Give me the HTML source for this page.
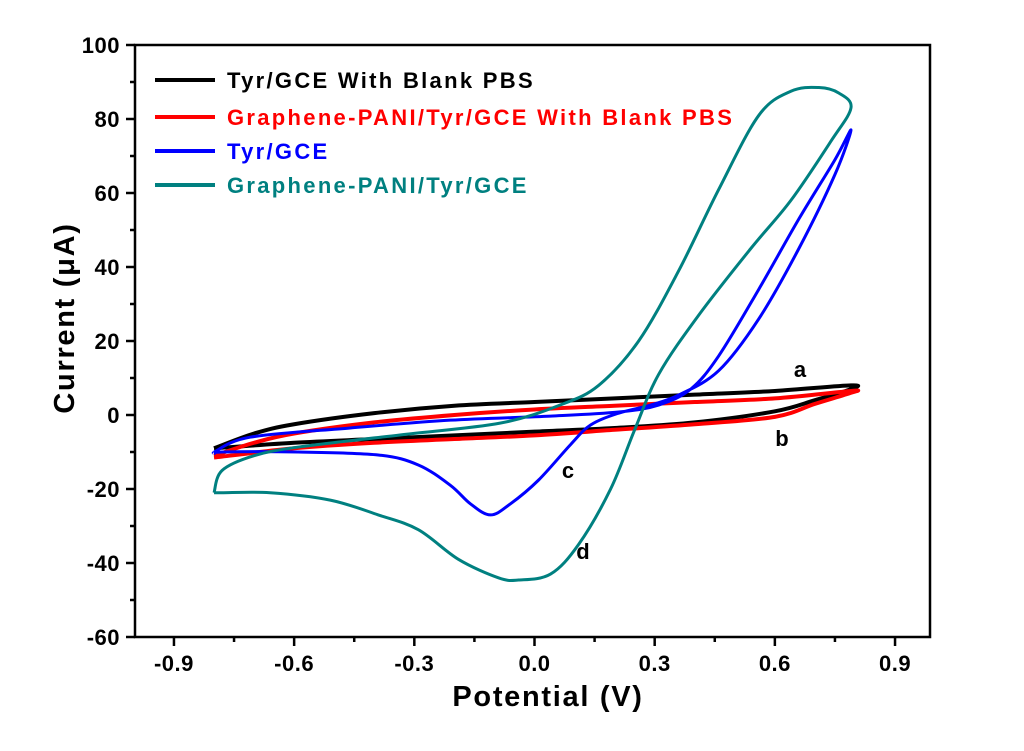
<!DOCTYPE html>
<html><head><meta charset="utf-8"><style>
html,body{margin:0;padding:0;background:#fff;}
svg text{font-family:"Liberation Sans",Arial,sans-serif;font-weight:bold;}
</style></head><body>
<svg id="chart" width="1024" height="746" viewBox="0 0 1024 746" xmlns="http://www.w3.org/2000/svg">
<g id="plot"></g>
</svg>
<script>
const xTicks=[-0.9,-0.6,-0.3,0.0,0.3,0.6,0.9];
const xTickLabels=["-0.9","-0.6","-0.3","0.0","0.3","0.6","0.9"];
const yTicks=[-60,-40,-20,0,20,40,60,80,100];
const yTickLabels=["-60","-40","-20","0","20","40","60","80","100"];
const seriesNames=["Tyr/GCE With Blank PBS","Graphene-PANI/Tyr/GCE With Blank PBS","Tyr/GCE","Graphene-PANI/Tyr/GCE"];
const seriesColors=["#000000","#ff0000","#0000ff","#008080"];
const potA=[-0.8,-0.7,-0.6,-0.4,-0.2,0,0.2,0.4,0.6,0.79,0.79,0.7,0.6,0.4,0.2,0,-0.2,-0.4,-0.6,-0.8];
const curA=[-9,-5,-2.5,0.5,2.5,3.5,4.5,5.5,6.5,8,7,4,1,-2,-3.5,-4.5,-5.5,-6.5,-7.5,-9];
const potB=[-0.8,-0.7,-0.6,-0.4,-0.2,0,0.2,0.4,0.6,0.79,0.79,0.7,0.6,0.4,0.2,0,-0.2,-0.4,-0.6,-0.8];
const curB=[-11,-7.5,-5,-2,0,1.5,2.5,3.5,4.5,6.5,6,3,-0.5,-2.5,-4,-5.5,-6.5,-7.5,-9,-11.5];
const potC=[-0.8,-0.71,-0.46,-0.21,0.04,0.21,0.31,0.39,0.46,0.56,0.66,0.75,0.79,0.75,0.66,0.56,0.46,0.36,0.29,0.21,0.14,0.09,0.01,-0.06,-0.11,-0.16,-0.21,-0.29,-0.39,-0.59,-0.78,-0.8];
const curC=[-10,-6,-3.5,-1.4,-0.3,0.8,2.7,7,16,34,53,69,77,65,45,26,12,5.4,2.7,0.5,-2.7,-8,-17.6,-24,-27,-24,-19,-13.5,-10.8,-10,-10,-10.5];
const potD=[-0.8,-0.78,-0.7,-0.585,-0.336,-0.086,0.064,0.16,0.26,0.36,0.46,0.56,0.64,0.71,0.76,0.79,0.74,0.64,0.54,0.41,0.31,0.25,0.19,0.11,0.04,-0.04,-0.09,-0.19,-0.29,-0.39,-0.51,-0.66,-0.78,-0.8];
const curD=[-21,-15,-11,-8.6,-5.4,-2.2,2.7,8,20,39,61,81,87.5,88.5,87,83,74,58,45,27,11,-4,-20,-35,-43,-44.6,-44,-39,-31,-27,-23,-21,-21,-21];
const NS="http://www.w3.org/2000/svg";
const g=document.getElementById('plot');
const L=135,R=930,T=45,B=637;
function sx(v){return 534.5+v*400.6;}
function sy(v){return 415-v*3.7;}
function el(tag,attrs){const e=document.createElementNS(NS,tag);for(const k in attrs)e.setAttribute(k,attrs[k]);g.appendChild(e);return e;}
let f=el('rect',{x:L,y:T,width:R-L,height:B-T,fill:'none',stroke:'#000','stroke-width':2.5});


xTicks.forEach((v,i)=>{
 let t=el('line',{x1:sx(v),x2:sx(v),y1:B,y2:B+9,stroke:'#000','stroke-width':2.5});
 
 
 if(i<xTicks.length-1){let m=el('line',{x1:sx(v+0.15),x2:sx(v+0.15),y1:B,y2:B+5,stroke:'#000','stroke-width':2.5});
 
 }
 let tx=el('text',{x:sx(v),y:B+34,'text-anchor':'middle','font-size':22,'letter-spacing':0.5});tx.textContent=xTickLabels[i];
 
 
});
yTicks.forEach((v,i)=>{
 let t=el('line',{x1:L-9,x2:L,y1:sy(v),y2:sy(v),stroke:'#000','stroke-width':2.5});
 
 
 if(i<yTicks.length-1){let m=el('line',{x1:L-5,x2:L,y1:sy(v+10),y2:sy(v+10),stroke:'#000','stroke-width':2.5});
 
 }
 let tx=el('text',{x:L-15,y:sy(v)+8,'text-anchor':'end','font-size':22,'letter-spacing':0.5});tx.textContent=yTickLabels[i];
 
 
});
let xt=el('text',{x:548,y:706,'text-anchor':'middle','font-size':29,'letter-spacing':1.7});xt.textContent='Potential (V)';


let yt=el('text',{x:0,y:0,'text-anchor':'middle','font-size':29,'letter-spacing':1.7,transform:'translate(74,318) rotate(-90)'});yt.textContent='Current (\u03bcA)';


function smooth(xs,ys){
 const p=xs.map((x,i)=>[sx(x),sy(ys[i])]);
 let d='M'+p[0][0]+','+p[0][1];
 for(let i=0;i<p.length-1;i++){
  const p0=p[Math.max(0,i-1)],p1=p[i],p2=p[i+1],p3=p[Math.min(p.length-1,i+2)];
  const c1=[p1[0]+(p2[0]-p0[0])/6,p1[1]+(p2[1]-p0[1])/6];
  const c2=[p2[0]-(p3[0]-p1[0])/6,p2[1]-(p3[1]-p1[1])/6];
  d+=' C'+c1[0]+','+c1[1]+' '+c2[0]+','+c2[1]+' '+p2[0]+','+p2[1];
 }
 return d;
}
const sets=[[potA,curA],[potB,curB],[potC,curC],[potD,curD]];
const names=['curve-a-tyr-blank','curve-b-graphene-blank','curve-c-tyr','curve-d-graphene'];
sets.forEach((s,i)=>{
 let p=el('path',{d:smooth(s[0],s[1]),fill:'none',stroke:seriesColors[i],'stroke-width':i<2?4:3,'stroke-linejoin':'round'});
 
 
});
const legY=[80,117,151,185];
seriesNames.forEach((n,i)=>{
 let l=el('line',{x1:155,x2:215,y1:legY[i],y2:legY[i],stroke:seriesColors[i],'stroke-width':4});
 
 
 let t=el('text',{x:227,y:legY[i]+8,'font-size':22,'letter-spacing':2.3,fill:seriesColors[i]});t.textContent=n;
 
 
});
[['a',800,377],['b',782,446],['c',568,478],['d',583,559]].forEach(a=>{
 let t=el('text',{x:a[1],y:a[2],'text-anchor':'middle','font-size':22});t.textContent=a[0];
 
 
});
</script>
</body></html>
